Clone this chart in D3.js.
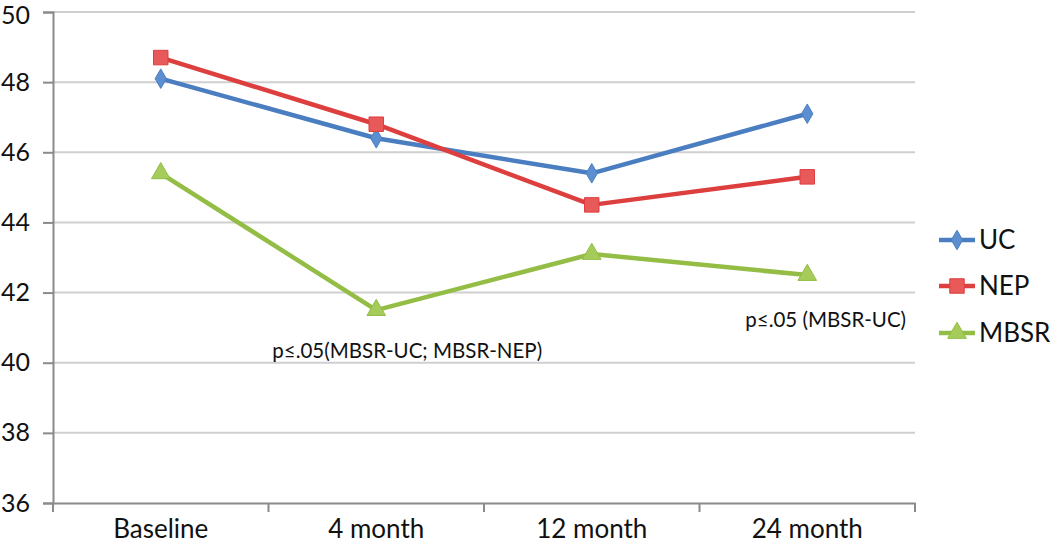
<!DOCTYPE html>
<html><head><meta charset="utf-8">
<script src="https://cdn.jsdelivr.net/npm/d3@7"></script>
<style>body{margin:0;background:#fff;} svg{display:block;} text{font-family:Lato,"Open Sans",sans-serif;fill:#111;}</style>
</head><body>
<svg id="chart" width="1050" height="547"></svg>
<script>
const categories = ["Baseline", "4 month", "12 month", "24 month"];
const seriesNames = ["UC", "NEP", "MBSR"];
const ucValues = [48.1, 46.4, 45.4, 47.1];
const nepValues = [48.7, 46.8, 44.5, 45.3];
const mbsrValues = [45.4, 41.5, 43.1, 42.5];
const yTicks = [36, 38, 40, 42, 44, 46, 48, 50];
const annotations = [
  {text: "p\u2264.05(MBSR-UC; MBSR-NEP)", cat: "4 month", value: 40.13},
  {text: "p\u2264.05 (MBSR-UC)", cat: "24 month", value: 41.02}
];

const colors = {UC: "#4a7ec0", NEP: "#dd3f3f", MBSR: "#93bd45"};
const markerFill = {UC: "#5b8fd0", NEP: "#e85a5a", MBSR: "#a5cc5a"};
const series = [
  {name: "UC", values: ucValues, symbol: d3.symbolDiamond, size: 110},
  {name: "NEP", values: nepValues, symbol: d3.symbolSquare, size: 210},
  {name: "MBSR", values: mbsrValues, symbol: d3.symbolTriangle, size: 150}
];

const svg = d3.select("#chart");
const mLeft = 53, mRight = 915, mTop = 12, mBottom = 503;
const x = d3.scaleBand().domain(categories).range([mLeft, mRight]).padding(0);
const y = d3.scaleLinear().domain([36, 50]).range([mBottom, mTop]);

// gridlines
svg.append("g").selectAll("line").data(yTicks.filter(t => t !== 36)).join("line")
  .attr("x1", mLeft).attr("x2", mRight)
  .attr("y1", d => y(d)).attr("y2", d => y(d))
  .attr("stroke", "#cfcfcf").attr("stroke-width", 2);

// y axis
const yAxis = svg.append("g").attr("transform", `translate(${mLeft},0)`)
  .call(d3.axisLeft(y).tickValues(yTicks).tickSize(10).tickPadding(13).tickFormat(d3.format("d")));
yAxis.select(".domain").attr("stroke", "#8a8a8a").attr("stroke-width", 2);
yAxis.selectAll(".tick line").attr("stroke", "#8a8a8a").attr("stroke-width", 2);
yAxis.selectAll("text").attr("font-size", 25).attr("fill", "#111").style("font-family", "Lato, 'Open Sans', sans-serif")
  .attr("y", d => d === 50 ? 3 : 0);

// x axis
const xAxis = svg.append("g").attr("transform", `translate(0,${mBottom})`)
  .call(d3.axisBottom(x).tickSize(0).tickPadding(17));
xAxis.select(".domain").attr("stroke", "#8a8a8a").attr("stroke-width", 2);
xAxis.selectAll("text").attr("font-size", 26).attr("fill", "#111").style("font-family", "Lato, 'Open Sans', sans-serif");
// category boundary ticks
const boundaries = categories.map(c => x(c)).concat([x(categories[categories.length-1]) + x.bandwidth()]);
svg.append("g").selectAll("line").data(boundaries).join("line")
  .attr("x1", d => d).attr("x2", d => d)
  .attr("y1", mBottom).attr("y2", mBottom + 9)
  .attr("stroke", "#8a8a8a").attr("stroke-width", 2);

const cx = c => x(c) + x.bandwidth() / 2;
const line = d3.line().x((d, i) => cx(categories[i])).y(d => y(d));

series.forEach(s => {
  svg.append("path").datum(s.values).attr("d", line)
    .attr("fill", "none").attr("stroke", colors[s.name]).attr("stroke-width", 4.5)
    .attr("stroke-linejoin", "round");
  svg.append("g").selectAll("path").data(s.values).join("path")
    .attr("d", d3.symbol().type(s.symbol).size(s.size))
    .attr("transform", (d, i) => `translate(${cx(categories[i])},${y(d)})`)
    .attr("fill", markerFill[s.name]).attr("stroke", colors[s.name]).attr("stroke-width", 1);
});

// annotations
svg.append("g").selectAll("text").data(annotations).join("text")
  .attr("x", d => cx(d.cat)).attr("y", d => y(d.value))
  .attr("text-anchor", "start")
  .attr("dx", (d, i) => i === 0 ? -104 : -62)
  .attr("font-size", 20.5).text(d => d.text);

// legend
const legendY = [240, 286, 333];
const lg = svg.append("g");
series.forEach((s, i) => {
  const g = lg.append("g").attr("transform", `translate(939,${legendY[i]})`);
  g.append("line").attr("x1", 0).attr("x2", 36).attr("stroke", colors[s.name]).attr("stroke-width", 4.5);
  g.append("path").attr("d", d3.symbol().type(s.symbol).size(s.size)).attr("transform", "translate(18,0)")
    .attr("fill", markerFill[s.name]).attr("stroke", colors[s.name]).attr("stroke-width", 1);
  g.append("text").attr("x", 40).attr("y", 0).attr("dy", "0.36em").attr("font-size", 26).text(s.name);
});
</script>
</body></html>
